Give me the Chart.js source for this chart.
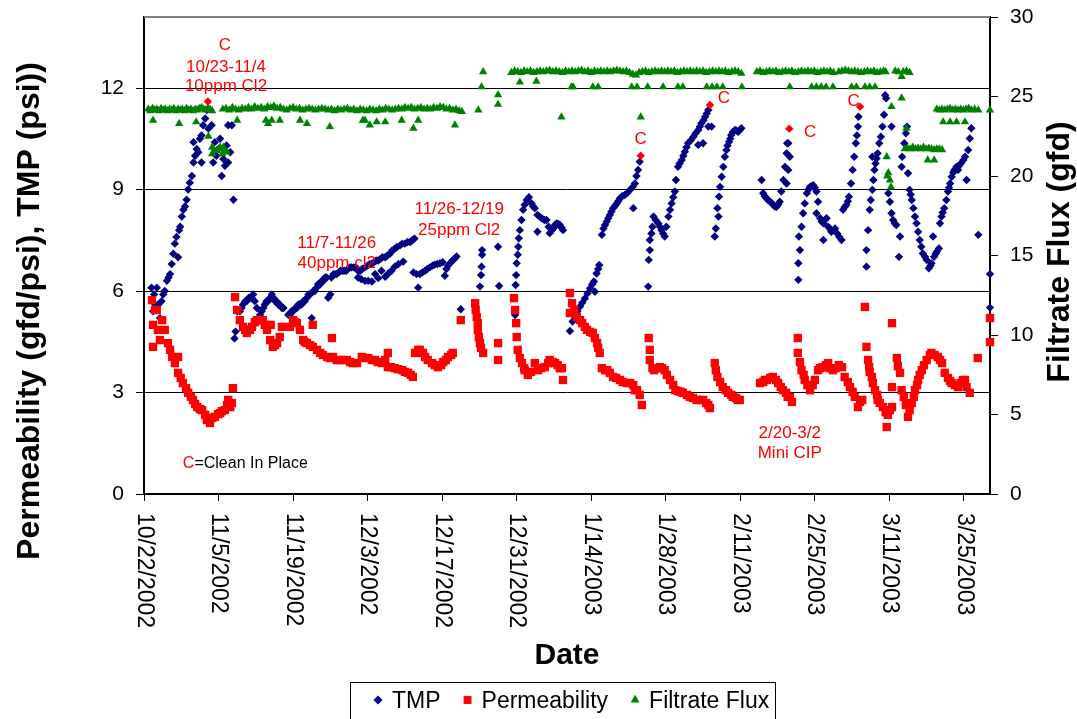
<!DOCTYPE html>
<html>
<head>
<meta charset="utf-8">
<title>TMP, Permeability and Filtrate Flux</title>
<script src="https://cdn.jsdelivr.net/npm/chart.js@4.4.1/dist/chart.umd.min.js"></script>
<style>
  html, body { margin: 0; padding: 0; background: #fff; }
  #wrap { position: relative; width: 1077px; height: 719px; }
</style>
</head>
<body>
<div id="wrap"><canvas id="fluxChart"></canvas></div>
<script>

// Days are counted from 10/22/2002
var xTickDays = [0, 14, 28, 42, 56, 70, 84, 98, 112, 126, 140, 154];
var xTickLabels = ['10/22/2002', '11/5/2002', '11/19/2002', '12/3/2002', '12/17/2002', '12/31/2002',
	'1/14/2003', '1/28/2003', '2/11/2003', '2/25/2003', '3/11/2003', '3/25/2003'];
var leftTicks = [0, 3, 6, 9, 12];
var rightTicks = [0, 5, 10, 15, 20, 25, 30];

// TMP (psi) - [day, value]
var tmpPoints = [
	[1.4,6.1],[1.7,5.4],[1.9,5.9],[2.1,5.6],[2.4,6.1],[2.7,5.6],[3.0,5.2],[3.3,5.7],[3.6,5.9],[3.9,6.0],
	[4.3,6.3],[4.6,6.4],[4.9,6.5],[5.2,6.8],[5.5,7.1],[5.8,7.4],[6.1,7.6],[6.4,7.0],[6.6,7.8],[6.8,7.9],
	[7.1,8.2],[7.4,8.4],[7.7,8.5],[8.0,8.7],[8.3,9.0],[8.6,9.2],[9.0,9.4],[9.3,9.8],[9.3,10.4],[9.6,10.0],
	[9.9,10.2],[10.2,10.1],[10.5,10.5],[10.8,10.6],[10.8,9.8],[11.1,10.9],[11.5,11.1],[11.8,11.35],[12.1,10.8],[12.7,10.9],
	[13.0,9.8],[13.3,10.4],[13.6,10.0],[14.0,10.2],[14.3,10.5],[14.6,9.4],[14.9,9.9],[15.2,9.7],[15.5,10.3],[15.8,10.9],
	[15.8,9.8],[16.2,10.1],[16.5,10.9],[16.8,8.7],
	[17.0,4.6],[17.2,4.8],[17.5,5.4],[18.0,5.4],[18.3,5.5],[18.6,5.6],[19.0,5.7],[19.3,5.7],[19.7,5.8],[20.2,5.8],
	[20.5,5.9],[20.8,5.7],[21.2,5.5],[21.5,5.2],[21.8,5.3],[22.1,5.4],[22.4,5.5],[22.7,5.6],[23.0,5.7],[23.3,5.7],
	[23.7,5.8],[24.0,5.9],[24.3,5.8],[24.6,5.7],[24.9,5.7],[25.2,5.6],[25.5,5.6],[25.9,5.5],[26.2,5.5],
	[27.1,5.3],[27.4,5.3],[27.7,5.4],[28.0,5.4],[28.4,5.5],[28.7,5.5],[29.0,5.6],[29.3,5.6],[29.6,5.6],[29.9,5.7],
	[30.2,5.7],[30.6,5.8],[30.9,5.9],[31.2,5.9],[31.5,5.2],[31.8,6.0],[32.1,6.0],[32.4,6.1],[32.7,6.2],[33.1,6.2],
	[33.4,6.3],[33.7,6.3],[34.0,6.4],[34.3,6.4],[34.6,5.8],[35.0,5.9],[35.2,6.4],[35.6,6.5],[35.9,6.5],[36.2,6.5],
	[36.6,6.55],[36.9,6.6],[37.3,6.6],[37.6,6.6],[38.0,6.6],[38.3,6.65],[38.7,6.7],[39.0,6.7],[39.4,6.7],[39.8,6.7],
	[40.2,6.6],[40.6,6.6],[41.0,6.65],[41.5,6.7],[42.0,6.75],[42.4,6.8],[42.8,6.8],[43.2,6.85],[43.6,6.9],[44.0,6.9],
	[44.4,6.95],[44.8,7.0],[45.3,7.0],[45.7,7.05],[46.2,7.1],[46.6,7.2],[47.1,7.25],[47.5,7.3],[48.1,7.35],[48.5,7.4],
	[49.0,7.4],[49.5,7.45],[50.0,7.45],[50.4,7.5],[50.8,7.55],
	[40.2,6.4],[40.8,6.35],[41.5,6.3],[42.1,6.3],[42.8,6.28],[43.4,6.5],[44.0,6.38],[44.6,6.6],[45.3,6.42],[45.9,6.52],
	[46.5,6.6],[47.1,6.72],[47.8,6.8],[48.7,6.87],
	[50.6,6.55],[51.2,6.5],[51.5,6.1],[51.8,6.5],[52.3,6.55],[52.8,6.6],[53.2,6.65],[53.7,6.7],[54.2,6.75],[54.6,6.78],
	[55.1,6.8],[55.6,6.82],[56.1,6.85],[56.5,6.45],[56.8,6.65],[57.1,6.75],[57.5,6.82],[57.8,6.88],[58.1,6.92],[58.4,6.97],
	[58.7,7.02],
	[59.5,5.46],[63.1,6.13],[63.3,6.47],[63.4,6.72],[63.5,7.07],[63.5,7.21],[66.5,7.31],[66.7,6.15],
	[69.7,5.29],[69.8,6.18],[69.9,6.47],[70.0,6.82],[70.2,7.07],[70.3,7.31],[70.4,7.56],[70.6,7.8],[70.9,8.1],[71.2,8.4],
	[71.5,8.55],[71.9,8.69],[72.3,8.77],[72.8,8.59],[73.1,8.5],[73.4,8.45],[73.9,8.25],[73.9,7.75],[74.3,8.2],[74.7,8.15],
	[75.2,8.1],[75.6,8.1],[76.0,7.9],[76.2,7.71],[76.6,7.8],[76.9,7.85],[77.2,7.95],[77.5,8.0],[77.8,7.98],[78.1,7.95],
	[78.4,7.88],[78.7,7.8],[80.0,4.82],
	[80.5,5.1],[80.9,5.24],[81.4,5.4],[81.9,5.54],[82.3,5.65],[82.8,5.78],[83.3,5.93],[83.8,6.08],[84.2,6.2],[84.5,6.28],
	[84.7,5.98],[85.0,6.52],[85.3,6.65],[85.5,6.77],
	[86.0,7.66],[86.3,7.85],[86.6,7.95],[86.9,8.05],[87.2,8.15],[87.5,8.25],[87.8,8.35],[88.1,8.45],[88.5,8.52],[88.8,8.59],
	[89.1,8.66],[89.4,8.74],[89.8,8.8],[90.3,8.84],[90.8,8.9],[91.3,8.99],[91.9,8.45],[91.8,9.08],[92.2,9.18],[92.5,9.4],
	[92.8,9.58],[93.1,9.82],
	[94.7,6.13],[94.8,6.92],[95.0,7.21],[95.0,7.51],[95.3,7.7],[95.5,7.9],[95.7,8.2],[96.1,8.1],[96.6,8.0],[96.9,7.9],
	[97.2,7.8],[97.5,7.7],[97.8,7.61],[98.1,7.9],[98.5,8.2],[98.8,8.4],[99.1,8.59],[99.4,8.77],[99.7,8.94],[99.9,9.28],
	[100.3,9.67],[100.6,9.77],[101.0,9.87],[101.3,10.0],[101.6,10.12],[101.9,10.25],[102.2,10.37],[102.7,10.46],[103.2,10.56],[103.6,10.66],
	[104.1,10.76],[104.1,10.32],[104.4,10.86],[104.7,10.96],[105.0,10.37],[105.1,11.05],[105.4,11.15],[105.7,11.25],[106.0,11.35],[106.0,10.86],
	[106.6,10.86],
	[107.2,7.61],[107.4,7.85],[107.7,8.45],[107.9,8.2],[108.0,8.79],[108.2,9.08],[108.5,9.38],[108.8,9.67],[109.1,9.97],[109.4,10.17],
	[109.6,10.3],[109.9,10.41],[110.1,10.5],[110.3,10.61],[110.6,10.7],[111.0,10.76],[111.3,10.74],[111.6,10.71],[111.9,10.76],[112.2,10.81],
	[116.0,9.28],[116.3,8.89],[116.6,8.8],[116.9,8.74],[117.2,8.7],[117.6,8.64],[117.9,8.6],[118.2,8.54],[118.5,8.5],[118.8,8.49],
	[119.1,8.55],[119.4,8.64],[119.7,8.94],[120.1,9.28],[120.4,9.67],[120.7,10.07],[120.7,9.18],[120.8,10.37],[121.0,9.58],[121.0,10.37],
	[121.3,9.97],
	[122.9,6.33],[122.9,6.82],[123.0,7.61],[123.2,7.21],[123.5,7.9],[123.8,8.3],[124.1,8.59],[124.5,8.89],[124.8,9.0],[125.1,9.08],
	[125.4,9.1],[125.7,9.13],[126.0,9.05],[126.3,8.94],[126.3,8.3],[126.6,8.64],[127.0,8.15],[127.3,8.05],[127.6,8.0],[127.6,7.51],
	[127.9,8.1],[128.2,8.15],[128.5,7.9],[128.8,7.85],[129.1,7.75],[129.5,7.8],[129.8,7.85],[130.2,7.7],[130.6,7.6],[131.0,7.51],
	[131.3,8.4],[131.6,8.48],[131.9,8.54],[132.2,8.65],[132.4,8.79],[132.8,9.18],[133.1,9.58],[133.4,9.97],[133.7,10.37],[133.9,10.6],
	[134.1,10.86],[134.2,11.15],
	[135.7,6.72],[135.7,7.21],[136.0,7.8],[136.3,8.4],[136.5,8.69],[136.8,8.99],[136.8,9.97],[137.0,9.28],[137.2,9.58],[137.4,9.77],
	[137.6,9.92],[137.8,10.07],[138.1,10.37],[138.4,10.56],[138.7,10.86],[139.0,11.21],[139.2,11.79],[139.4,11.7],
	[139.8,8.89],[140.1,8.64],[140.4,8.3],[140.4,10.86],[140.7,8.1],[141.0,8.0],[141.3,7.95],[141.8,7.01],[142.0,7.61],[142.3,9.67],
	[142.4,9.97],[142.8,10.37],[143.1,10.66],[143.3,10.86],[143.5,9.48],[143.8,8.99],[144.0,8.85],[144.2,8.69],[144.5,8.45],[144.8,8.2],
	[145.1,8.0],[145.4,7.75],[145.7,7.51],[146.0,7.31],[146.3,7.11],[146.7,7.01],[147.0,6.92],[147.4,6.67],[147.7,6.75],[147.9,6.82],
	[148.2,7.61],[148.4,7.01],[148.7,7.1],[148.9,7.16],[149.3,7.26],[149.5,8.0],[149.8,8.2],[150.0,8.32],[150.3,8.45],[150.7,8.69],
	[151.0,8.94],[151.2,9.05],[151.4,9.18],[151.7,9.38],[152.0,9.5],[152.2,9.58],[152.6,9.67],[152.9,9.58],[153.1,9.7],[153.4,9.77],
	[153.9,9.87],[154.2,9.97],[154.5,9.28],[154.8,10.17],[155.1,10.51],[155.4,10.81],[156.7,7.66],[158.9,6.5],[158.9,5.51]
];

// TMP readings taken just before each clean in place
var cipPoints = [[12.0,11.6],[93.3,10.0],[106.3,11.5],[121.2,10.8],[134.5,11.45]];

// Permeability (gfd/psi) - [day, value]
var permeabilityPoints = [
	[1.5,5.73],[1.7,5.0],[1.7,4.35],[2.1,5.44],[2.4,5.44],[2.6,4.85],[3.0,4.55],[3.4,5.14],[3.9,4.85],[4.5,4.46],
	[4.9,4.26],[5.3,4.05],[5.8,3.87],[6.4,4.05],[6.4,3.58],[6.9,3.43],[7.3,3.28],[7.9,3.13],[8.3,2.99],[8.8,2.87],
	[9.2,2.78],[9.6,2.66],[10.0,2.57],[10.5,2.51],[10.9,2.48],[11.5,2.34],[11.8,2.19],[12.4,2.1],[12.8,2.25],[13.3,2.28],
	[13.9,2.36],[14.3,2.39],[14.6,2.45],[15.2,2.48],[15.6,2.63],[15.8,2.78],[16.2,2.57],[16.5,2.69],[16.7,3.13],
	[17.1,5.82],[17.5,5.44],[18.0,5.14],[18.6,4.94],[19.0,4.85],[19.3,4.76],[19.9,4.85],[20.3,4.94],[20.8,5.08],[21.2,5.14],
	[21.8,5.14],[22.3,5.14],[22.7,5.0],[23.1,4.85],[23.7,4.55],[23.8,5.0],[24.2,4.35],[24.6,4.4],[25.0,4.46],[25.5,4.64],
	[25.9,4.94],
	[27.4,4.94],[28.0,5.14],[28.4,5.08],[28.7,5.05],[29.3,4.85],[29.9,4.55],[30.2,4.49],[30.6,4.46],[31.2,4.4],[31.7,5.0],
	[31.7,4.35],[32.5,4.26],[33.1,4.17],[33.6,4.11],[34.4,4.05],[34.9,4.02],[35.3,4.61],[35.5,4.05],[36.2,3.96],[36.8,3.96],
	[37.4,3.96],[38.1,3.96],[38.7,3.9],[39.2,3.87],[40.0,3.87],
	[40.9,4.05],[41.5,4.02],[42.1,4.02],[42.8,3.96],[43.4,3.96],[43.9,3.9],[44.7,3.87],[45.3,3.96],[45.8,4.17],[45.8,3.75],
	[46.4,3.75],[47.1,3.72],[47.7,3.69],[48.5,3.66],[49.0,3.61],[49.6,3.58],[50.1,3.52],[50.5,3.46],
	[50.9,4.17],[51.5,4.26],[51.8,4.26],[52.4,4.17],[52.8,4.05],[53.3,3.96],[54.1,3.87],[54.6,3.81],[55.2,3.75],[55.8,3.81],
	[56.2,3.9],[56.7,3.96],[57.1,4.05],[57.7,4.11],[58.0,4.17],
	[59.5,5.14],[62.2,5.64],[62.3,5.44],[62.5,5.23],[62.7,5.05],[62.7,4.85],[62.9,4.64],[63.1,4.46],[63.3,4.32],[63.7,4.17],
	[66.5,4.46],[66.5,3.96],
	[69.5,5.79],[69.7,5.44],[69.9,5.05],[70.0,4.64],[70.2,4.26],[70.6,4.02],[71.0,3.87],[71.4,3.72],[71.5,3.66],[72.1,3.52],
	[72.7,3.61],[73.4,3.87],[74.0,3.66],[74.6,3.72],[75.3,3.75],[75.9,3.87],[76.2,3.96],[76.8,3.9],[77.2,3.87],[77.7,3.81],
	[78.1,3.72],[78.5,3.72],[78.7,3.37],[80.0,5.94],[80.0,5.35],
	[80.4,5.64],[80.8,5.44],[81.3,5.23],[81.9,5.14],[82.3,5.05],[82.8,4.94],[83.2,4.85],[83.8,4.79],[84.3,4.76],[84.7,4.61],
	[85.1,4.46],[85.3,4.32],[85.6,4.17],[86.0,3.72],[86.6,3.66],[87.0,3.66],[87.5,3.58],[88.1,3.46],[88.7,3.43],[89.4,3.37],
	[89.9,3.31],[90.7,3.28],[91.3,3.28],[91.9,3.22],[92.2,3.07],[92.6,3.07],[93.1,2.93],[93.5,2.63],
	[94.8,4.61],[95.0,4.26],[95.0,3.96],[95.5,3.72],[95.8,3.66],[96.4,3.72],[96.9,3.75],[97.3,3.72],[97.8,3.66],[98.2,3.52],
	[98.8,3.37],[99.4,3.22],[99.8,3.07],[100.3,3.04],[100.8,3.02],[101.2,2.99],[102.0,2.93],[102.5,2.87],[103.1,2.84],[103.8,2.78],
	[104.4,2.78],[105.0,2.78],[105.6,2.69],[106.0,2.63],[106.3,2.54],
	[107.2,3.87],[107.4,3.66],[107.7,3.46],[108.2,3.31],[108.7,3.16],[109.3,3.07],[109.7,2.99],[110.3,2.93],[110.6,2.87],[111.2,2.84],
	[111.5,2.78],[111.9,2.78],
	[115.7,3.28],[116.3,3.31],[116.6,3.37],[117.0,3.37],[117.6,3.43],[118.1,3.46],[118.7,3.37],[119.1,3.28],[119.6,3.16],[120.0,3.07],
	[120.6,2.99],[120.9,2.87],[121.3,2.87],[121.7,2.72],
	[122.8,4.61],[122.8,4.17],[123.2,3.9],[123.5,3.66],[123.9,3.52],[124.1,3.37],[124.6,3.22],[125.1,3.07],[125.6,3.22],[126.0,3.37],
	[126.6,3.66],[127.0,3.72],[127.5,3.75],[128.1,3.81],[128.5,3.87],[128.8,3.72],[129.4,3.66],[129.9,3.72],[130.5,3.81],[131.1,3.75],
	[131.6,3.46],[132.2,3.31],[132.6,3.16],[133.1,3.02],[133.5,2.87],[134.1,2.57],[134.5,2.72],[134.9,2.78],
	[135.4,5.53],[135.7,4.35],[136.0,3.96],[136.2,3.75],[136.3,3.61],[136.7,3.46],[136.9,3.28],[137.3,3.07],[137.7,2.93],[137.8,2.78],
	[138.2,2.69],[138.8,2.57],[139.3,2.42],[139.5,1.98],[139.7,2.34],[140.1,2.48],[140.5,2.57],[140.5,3.16],[140.5,5.05],[141.4,4.02],
	[141.6,3.78],[142.0,3.58],[142.3,3.07],[142.7,2.87],[143.1,2.63],[143.5,2.28],[143.8,2.48],[144.2,2.69],[144.6,2.87],[144.8,3.07],
	[145.2,3.22],[145.4,3.37],[145.7,3.52],[146.1,3.66],[146.5,3.81],[147.0,3.96],[147.6,4.11],[147.9,4.17],[148.5,4.11],[149.1,4.05],
	[149.5,3.96],[149.9,3.87],[150.4,3.58],[151.0,3.43],[151.4,3.34],[151.7,3.28],[152.3,3.22],[152.9,3.16],[153.4,3.28],[153.8,3.37],
	[154.2,3.37],[154.5,3.16],[155.1,2.99],[156.6,4.02],[158.9,5.2],[158.9,4.49]
];

// Filtrate flux (gfd) - [day, value]
var fluxPoints = [
	[0.8,24.2],[1.2,24.1],[1.6,24.25],[2.0,24.15],[2.4,24.2],[2.8,24.1],[3.2,24.25],[3.6,24.15],[4.0,24.2],[4.4,24.1],
	[4.8,24.2],[5.2,24.15],[5.6,24.25],[6.0,24.1],[6.4,24.2],[6.8,24.15],[7.2,24.2],[7.6,24.1],[8.0,24.25],[8.4,24.15],
	[8.8,24.2],[9.2,24.1],[9.6,24.2],[10.0,24.15],[10.4,24.25],[10.8,24.3],[11.2,24.2],[11.6,24.15],[12.0,24.25],[12.4,24.2],
	[12.8,24.1],
	[1.7,23.5],[6.6,23.3],[9.8,23.4],
	[12.1,22.5],[12.8,21.8],[12.8,21.4],[13.2,21.6],[13.6,21.6],[14.0,21.7],[14.3,21.8],[14.7,21.4],[14.9,21.8],[15.3,21.6],
	[15.6,21.5],
	[14.8,24.2],[15.4,24.25],[16.0,24.15],[16.6,24.3],[17.2,24.2],[17.8,24.15],[18.4,24.25],[19.0,24.2],[19.6,24.3],[20.2,24.2],
	[20.8,24.35],[21.4,24.25],[22.0,24.3],[22.6,24.2],[23.2,24.35],[23.8,24.3],[24.4,24.4],[25.0,24.25],[25.6,24.3],[26.2,24.2],
	[26.8,24.15],[27.4,24.25],[28.0,24.3],[28.6,24.2],[29.2,24.25],[29.8,24.15],[30.4,24.2],[31.0,24.25],[31.6,24.2],[32.2,24.15],
	[32.8,24.2],[33.4,24.25],[34.0,24.2],[34.6,24.15],[35.2,24.2],[35.8,24.1],[36.4,24.2],[37.0,24.15],[37.6,24.2],[38.2,24.25],
	[38.8,24.15],[39.4,24.2],[40.0,24.1],[40.6,24.2],[41.2,24.15],[41.8,24.1],[42.4,24.2],[43.0,24.15],[43.6,24.1],[44.2,24.2],
	[44.8,24.15],[45.4,24.25],[46.0,24.2],[46.6,24.15],[47.2,24.2],[47.8,24.25],[48.4,24.2],[49.0,24.3],[49.6,24.25],[50.2,24.3],
	[50.8,24.2],[51.4,24.25],[52.0,24.3],[52.6,24.2],[53.2,24.25],[53.8,24.2],[54.4,24.3],[55.0,24.25],[55.6,24.35],[56.2,24.3],
	[56.8,24.2],[57.4,24.25],[58.0,24.15],[58.6,24.2],[59.2,24.1],[59.7,24.05],
	[17.5,23.5],[22.9,23.5],[23.3,23.3],[24.0,23.5],[25.5,23.5],[29.3,23.5],[30.6,23.3],[34.9,23.1],[41.1,23.5],[41.5,23.5],
	[42.4,23.2],[43.7,23.4],[45.3,23.4],[48.4,23.5],[50.6,23.0],[51.5,23.5],[58.4,23.2],
	[62.8,24.15],[63.4,25.6],[63.7,26.55],[66.5,25.1],[66.5,24.5],
	[69.0,26.5],[69.6,26.6],[70.2,26.55],[70.8,26.5],[71.4,26.6],[72.0,26.55],[72.6,26.6],[73.2,26.5],[73.8,26.55],[74.4,26.6],
	[75.0,26.55],[75.6,26.6],[76.2,26.65],[76.8,26.55],[77.4,26.6],[78.0,26.55],[78.6,26.5],[79.2,26.6],[79.8,26.55],[80.4,26.6],
	[81.0,26.55],[81.6,26.6],[82.2,26.65],[82.8,26.55],[83.4,26.6],[84.0,26.5],[84.6,26.6],[85.2,26.55],[85.8,26.6],[86.4,26.55],
	[87.0,26.6],[87.6,26.55],[88.2,26.6],[88.8,26.65],[89.4,26.6],[90.0,26.55],[90.6,26.6],[91.2,26.5],[91.8,26.4],[92.4,26.35],
	[93.0,26.5],[93.6,26.55],[94.2,26.6],[94.8,26.5],[95.4,26.55],[96.0,26.6],[96.6,26.55],[97.2,26.6],[97.8,26.55],[98.4,26.6],
	[99.0,26.55],[99.6,26.6],[100.2,26.5],[100.8,26.55],[101.4,26.6],[102.0,26.55],[102.6,26.6],[103.2,26.55],[103.8,26.6],[104.4,26.55],
	[105.0,26.6],[105.6,26.5],[106.2,26.55],[106.8,26.6],[107.4,26.55],[108.0,26.6],[108.6,26.55],[109.2,26.6],[109.8,26.5],[110.4,26.55],
	[111.0,26.6],[111.6,26.55],[112.2,26.45],
	[70.6,25.9],[73.7,25.95],[78.4,23.7],[80.3,25.6],[80.6,25.6],[84.3,25.6],[85.3,25.6],[91.6,25.6],[92.6,25.6],[93.3,23.7],
	[94.6,25.6],[97.5,25.6],[100.3,25.6],[101.2,25.6],[105.7,25.6],[106.7,25.6],[107.6,25.6],[108.7,25.6],[112.3,25.6],
	[115.1,26.55],[115.7,26.6],[116.3,26.5],[116.9,26.55],[117.5,26.6],[118.1,26.55],[118.7,26.6],[119.3,26.5],[119.9,26.55],[120.5,26.6],
	[121.1,26.55],[121.7,26.6],[122.3,26.5],[122.9,26.55],[123.5,26.6],[124.1,26.55],[124.7,26.6],[125.3,26.55],[125.9,26.6],[126.5,26.5],
	[127.1,26.55],[127.7,26.6],[128.3,26.55],[128.9,26.6],[129.5,26.5],[130.5,26.55],[131.1,26.6],[131.7,26.65],[132.3,26.6],[132.9,26.55],
	[133.5,26.6],[134.1,26.55],[134.7,26.5],[135.3,26.55],[135.9,26.6],[136.5,26.55],[137.1,26.6],[137.7,26.5],[138.3,26.55],[138.9,26.6],
	[139.3,26.55],[141.1,26.6],[141.7,26.55],[142.3,26.25],[142.6,26.55],[143.2,26.6],[143.8,26.5],
	[121.3,25.6],[125.4,25.6],[126.3,25.6],[127.2,25.6],[128.1,25.6],[129.4,25.6],[132.9,25.6],[133.8,25.6],[135.4,25.6],[136.3,25.6],
	[137.3,25.6],
	[140.4,24.36],[142.3,24.9],[143.2,23.0],[139.5,21.2],[139.6,20.0],[139.8,20.2],[140.1,19.75],[140.3,19.3],
	[142.9,21.7],[143.4,21.75],[143.9,21.7],[144.4,21.8],[144.9,21.7],[145.4,21.75],[145.9,21.7],[146.4,21.8],[146.9,21.7],[147.4,21.75],
	[147.9,21.7],[148.4,21.65],[148.9,21.7],[149.4,21.7],[149.9,21.65],
	[147.2,21.0],[148.4,21.0],
	[148.9,24.2],[149.4,24.15],[149.9,24.2],[150.4,24.15],[150.9,24.2],[151.4,24.25],[151.9,24.15],[152.4,24.2],[152.9,24.15],[153.4,24.2],
	[153.9,24.15],[154.4,24.2],[154.9,24.25],[155.4,24.15],[156.0,24.2],[156.7,24.15],[158.9,24.15],
	[150.1,23.4],[151.4,23.4],[152.6,23.4],[154.2,23.4]
];

// Red notes on the plot - [text, day, left axis value]
var notes = [
	['C', 15.2, 13.27],
	['10/23-11/4', 15.4, 12.62],
	['10ppm Cl2', 15.4, 12.06],
	['11/7-11/26', 36.2, 7.42],
	['40ppm cl2', 36.2, 6.83],
	['11/26-12/19', 59.2, 8.42],
	['25ppm Cl2', 59.2, 7.8],
	['C', 93.3, 10.49],
	['C', 108.9, 11.71],
	['C', 125.1, 10.7],
	['C', 133.3, 11.62],
	['2/20-3/2', 121.3, 1.8],
	['Mini CIP', 121.3, 1.21]
];
// where the "C=Clean In Place" key starts
var cipKey = [7.3, 0.89];

var FONT = "'Liberation Sans', Arial, Helvetica, sans-serif";

function toXY(points) {
	return points.map(p => ({ x: p[0], y: p[1] }));
}

function setTicks(values) {
	return function (scale) {
		scale.ticks = values.map(v => ({ value: v }));
	};
}

// fixed axis widths so the plot area sits where it should
function fixWidth(width) {
	return function (scale) {
		scale.width = width;
		scale.paddingTop = 0;
		scale.paddingBottom = 0;
	};
}

// Notes, rotated date labels, axis titles and the boxed legend
var chartDecorations = {
	id: 'chartDecorations',

	afterDatasetsDraw: function (chart) {
		var ctx = chart.ctx;
		var xs = chart.scales.x, ys = chart.scales.y;
		ctx.save();
		ctx.fillStyle = '#ff0000';
		ctx.font = '17px ' + FONT;
		ctx.textAlign = 'center';
		ctx.textBaseline = 'middle';
		notes.forEach(n => {
			ctx.fillText(n[0], xs.getPixelForValue(n[1]), ys.getPixelForValue(n[2]));
		});

		// C=Clean In Place
		var kx = xs.getPixelForValue(cipKey[0]);
		var ky = ys.getPixelForValue(cipKey[1]);
		ctx.font = '16px ' + FONT;
		ctx.textAlign = 'left';
		ctx.fillText('C', kx, ky);
		ctx.fillStyle = '#000';
		ctx.fillText('=Clean In Place', kx + ctx.measureText('C').width, ky);
		ctx.restore();
	},

	afterDraw: function (chart) {
		var ctx = chart.ctx;
		var area = chart.chartArea;
		var xs = chart.scales.x;
		ctx.save();

		// top edge of the plot area
		ctx.strokeStyle = '#808080';
		ctx.lineWidth = 2;
		ctx.beginPath();
		ctx.moveTo(area.left, area.top);
		ctx.lineTo(area.right, area.top);
		ctx.stroke();

		// date labels, reading downwards
		ctx.fillStyle = '#000';
		ctx.font = '23px ' + FONT;
		ctx.textAlign = 'left';
		ctx.textBaseline = 'middle';
		xTickDays.forEach((d, i) => {
			ctx.save();
			ctx.translate(xs.getPixelForValue(d), area.bottom + 19);
			ctx.rotate(Math.PI / 2);
			ctx.fillText(xTickLabels[i], 0, 0);
			ctx.restore();
		});

		// axis titles
		ctx.font = 'bold 32px ' + FONT;
		ctx.textAlign = 'center';
		ctx.save();
		ctx.translate(30, 311);
		ctx.rotate(-Math.PI / 2);
		ctx.fillText('Permeability (gfd/psi), TMP (psi))', 0, 0);
		ctx.restore();
		ctx.save();
		ctx.translate(1060, 252);
		ctx.rotate(-Math.PI / 2);
		ctx.fillText('Filtrate Flux (gfd)', 0, 0);
		ctx.restore();
		ctx.font = 'bold 30px ' + FONT;
		ctx.fillText('Date', (area.left + area.right) / 2, 656);

		// legend
		ctx.strokeStyle = '#000';
		ctx.lineWidth = 1;
		ctx.strokeRect(350.5, 682.5, 425, 45);
		ctx.font = '23px ' + FONT;
		ctx.textAlign = 'left';
		ctx.textBaseline = 'alphabetic';
		var legendSets = chart.data.datasets.filter(ds => ds.inLegend);
		var markerRadius = { rectRot: 4.5, rect: 5.6, triangle: 5.2 };
		var lx = 378;
		legendSets.forEach(ds => {
			ctx.fillStyle = ds.backgroundColor;
			Chart.helpers.drawPoint(ctx, { pointStyle: ds.pointStyle, radius: markerRadius[ds.pointStyle], borderWidth: 0, rotation: 0 }, lx, 700);
			ctx.fillStyle = '#000';
			ctx.fillText(ds.label, lx + 14, 708);
			lx += 14 + ctx.measureText(ds.label).width + 27;
		});

		ctx.restore();
	}
};

var navy = '#000080';
var red = '#ff0000';
var green = '#008000';

new Chart(document.getElementById('fluxChart'), {
	type: 'scatter',
	data: {
		datasets: [
			{
				label: 'TMP',
				inLegend: true,
				data: toXY(tmpPoints),
				yAxisID: 'y',
				pointStyle: 'rectRot',
				radius: 4.2,
				backgroundColor: navy,
				borderColor: navy,
				borderWidth: 0,
				order: 4,
				clip: false
			},
			{
				label: 'Permeability',
				inLegend: true,
				data: toXY(permeabilityPoints),
				yAxisID: 'y',
				pointStyle: 'rect',
				radius: 5.9,
				backgroundColor: red,
				borderColor: red,
				borderWidth: 0,
				order: 3,
				clip: false
			},
			{
				label: 'Filtrate Flux',
				inLegend: true,
				data: toXY(fluxPoints),
				yAxisID: 'y2',
				pointStyle: 'triangle',
				radius: 4.8,
				backgroundColor: green,
				borderColor: green,
				borderWidth: 0,
				order: 1,
				clip: false
			},
			{
				label: 'Clean in place',
				inLegend: false,
				data: toXY(cipPoints),
				yAxisID: 'y',
				pointStyle: 'rectRot',
				radius: 4.2,
				backgroundColor: red,
				borderColor: red,
				borderWidth: 0,
				order: 2,
				clip: false
			}
		]
	},
	options: {
		responsive: true,
		maintainAspectRatio: false,
		devicePixelRatio: 1,
		animation: false,
		events: [],
		layout: { padding: { top: 17, left: 0, right: 0, bottom: 0 } },
		plugins: {
			legend: { display: false },
			tooltip: { enabled: false }
		},
		scales: {
			x: {
				type: 'linear',
				position: 'bottom',
				min: 0,
				max: 158.9,
				afterBuildTicks: setTicks(xTickDays),
				afterFit: function (scale) { scale.height = 225; },
				ticks: { display: false },
				grid: { drawOnChartArea: false, tickLength: 7, color: '#000' },
				border: { color: '#000', width: 2 }
			},
			y: {
				type: 'linear',
				position: 'left',
				min: 0,
				max: 14.1,
				afterBuildTicks: setTicks(leftTicks),
				afterFit: fixWidth(144),
				ticks: { color: '#000', padding: 12, font: { family: FONT, size: 21 } },
				grid: { color: '#000', lineWidth: 1, tickLength: 8 },
				border: { color: '#000', width: 2 }
			},
			y2: {
				type: 'linear',
				position: 'right',
				min: 0,
				max: 30,
				afterBuildTicks: setTicks(rightTicks),
				afterFit: fixWidth(87),
				ticks: { color: '#000', padding: 12, font: { family: FONT, size: 21 } },
				grid: { drawOnChartArea: false, color: '#000', tickLength: 8 },
				border: { color: '#000', width: 2 }
			}
		}
	},
	plugins: [chartDecorations]
});
</script>
</body>
</html>
